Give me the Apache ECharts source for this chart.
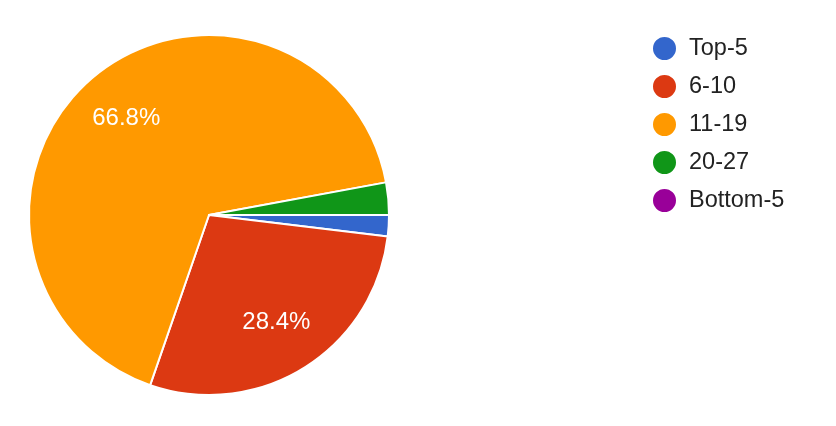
<!DOCTYPE html>
<html>
<head>
<meta charset="utf-8">
<script src="https://cdn.jsdelivr.net/npm/echarts@6/dist/echarts.min.js"></script>
<style>
  html, body { margin: 0; padding: 0; background: #fff; }
  #chart { width: 836px; height: 426px; }
</style>
</head>
<body>
<div id="chart"></div>
<script>
// slice names and shares (percent)
const groups = ['Top-5', '6-10', '11-19', '20-27', 'Bottom-5'];
const shares = [1.9, 28.4, 66.8, 2.9, 0];
const colors = ['#3366cc', '#dc3912', '#ff9900', '#109618', '#990099'];

const pieData = groups.map((g, i) => ({ name: g, value: shares[i] }));

const chart = echarts.init(document.getElementById('chart'));

const option = {
  animation: false,
  color: colors,
  legend: {
    orient: 'vertical',
    left: 646,
    top: 30,
    icon: 'circle',
    itemWidth: 25,
    itemHeight: 25,
    itemGap: 11,
    selectedMode: false,
    textStyle: {
      fontFamily: 'Liberation Sans, Arial, sans-serif',
      fontSize: 23.5,
      lineHeight: 25,
      color: '#222',
      padding: [0, 0, 0, 7]
    },
    data: groups
  },
  series: [
    {
      // the visible slices
      type: 'pie',
      center: [209, 215],
      radius: [0, 180],
      startAngle: 0,
      clockwise: true,
      silent: true,
      itemStyle: { borderColor: '#fff', borderWidth: 2 },
      label: { show: false },
      labelLine: { show: false },
      data: pieData
    },
    {
      // transparent ring only used to place the % labels further out
      type: 'pie',
      center: [209, 215],
      radius: [68, 180],
      startAngle: 0,
      clockwise: true,
      silent: true,
      avoidLabelOverlap: false,
      itemStyle: { color: 'rgba(0,0,0,0)', borderWidth: 0 },
      label: {
        show: true,
        position: 'inside',
        color: '#fff',
        fontFamily: 'Liberation Sans, Arial, sans-serif',
        fontSize: 24,
        formatter: p => (p.percent >= 5 ? p.value.toFixed(1) + '%' : '')
      },
      labelLine: { show: false },
      data: pieData
    }
  ]
};

chart.setOption(option);
</script>
</body>
</html>
